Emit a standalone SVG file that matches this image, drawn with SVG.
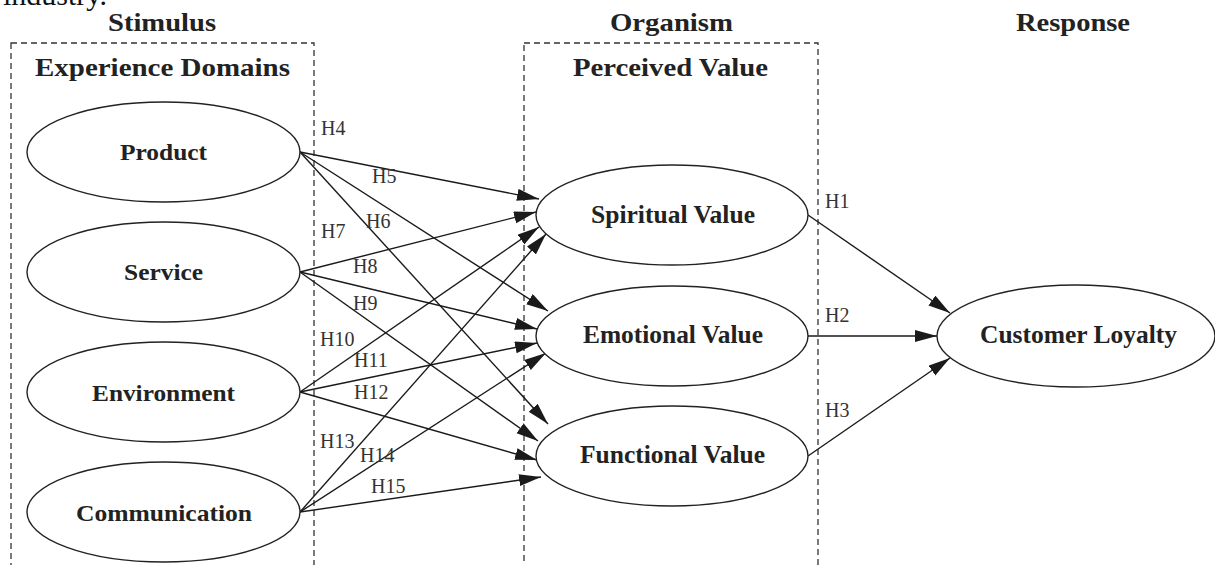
<svg xmlns="http://www.w3.org/2000/svg" width="1215" height="565" viewBox="0 0 1215 565">
<style>
.bg{fill:#ffffff}
.box{fill:none;stroke:#333;stroke-width:1.3;stroke-dasharray:6 4}
.node{fill:#ffffff;stroke:#222;stroke-width:1.4}
.title{font-family:"Liberation Serif","Times New Roman",serif;font-weight:bold;font-size:25px;fill:#222;text-anchor:middle}
.nt{font-family:"Liberation Serif","Times New Roman",serif;font-weight:bold;font-size:24px;fill:#222;text-anchor:middle}
.nt2{font-family:"Liberation Serif","Times New Roman",serif;font-weight:bold;font-size:26px;fill:#222;text-anchor:middle}
.lbl{font-family:"Liberation Serif","Times New Roman",serif;font-size:20px;fill:#333}
.top{font-family:"Liberation Serif","Times New Roman",serif;font-size:30px;fill:#111}
.edge{fill:none;stroke:#1a1a1a;stroke-width:1.4;marker-end:url(#arr)}
</style>
<defs>
<marker id="arr" markerUnits="userSpaceOnUse" markerWidth="24" markerHeight="14" refX="22" refY="6" orient="auto">
<path d="M0,0 L22,6 L0,12 z" fill="#1a1a1a"/>
</marker>
</defs>
<rect class="bg" x="0" y="0" width="1215" height="565"/>
<text class="top" x="3" y="5">industry.</text>

<g id="stimulus-box">
<rect class="box" x="11" y="43" width="303" height="560"/>
<text class="title" x="162" y="31" textLength="108" lengthAdjust="spacingAndGlyphs">Stimulus</text>
<text class="title" x="162.5" y="76" textLength="255" lengthAdjust="spacingAndGlyphs">Experience Domains</text>
</g>
<g id="organism-box">
<rect class="box" x="524" y="43" width="294" height="560"/>
<text class="title" x="671.5" y="31" textLength="123" lengthAdjust="spacingAndGlyphs">Organism</text>
<text class="title" x="670.5" y="76" textLength="195" lengthAdjust="spacingAndGlyphs">Perceived Value</text>
</g>
<g id="response-title">
<text class="title" x="1073" y="31" textLength="114" lengthAdjust="spacingAndGlyphs">Response</text>
</g>

<g id="connectors">
<line class="edge" x1="300" y1="152" x2="539" y2="199"/>
<line class="edge" x1="300" y1="152" x2="548" y2="311"/>
<line class="edge" x1="300" y1="152" x2="548" y2="424"/>
<line class="edge" x1="300" y1="272" x2="536" y2="212"/>
<line class="edge" x1="300" y1="272" x2="537" y2="329"/>
<line class="edge" x1="300" y1="272" x2="538" y2="441"/>
<line class="edge" x1="300" y1="392" x2="539" y2="227"/>
<line class="edge" x1="300" y1="392" x2="537" y2="343"/>
<line class="edge" x1="300" y1="392" x2="537" y2="460"/>
<line class="edge" x1="300" y1="512" x2="546" y2="234"/>
<line class="edge" x1="300" y1="512" x2="546" y2="353"/>
<line class="edge" x1="300" y1="512" x2="541" y2="477"/>
<line class="edge" x1="808" y1="215" x2="950" y2="313"/>
<line class="edge" x1="808" y1="336" x2="937" y2="336"/>
<line class="edge" x1="808" y1="456" x2="950" y2="358"/>
<text class="lbl" x="321" y="135">H4</text>
<text class="lbl" x="372" y="183">H5</text>
<text class="lbl" x="366" y="228">H6</text>
<text class="lbl" x="321" y="238">H7</text>
<text class="lbl" x="353" y="273">H8</text>
<text class="lbl" x="353" y="310">H9</text>
<text class="lbl" x="320" y="346">H10</text>
<text class="lbl" x="354" y="367">H11</text>
<text class="lbl" x="354" y="399">H12</text>
<text class="lbl" x="320" y="448">H13</text>
<text class="lbl" x="360" y="462">H14</text>
<text class="lbl" x="371" y="493">H15</text>
<text class="lbl" x="825" y="208">H1</text>
<text class="lbl" x="825" y="322">H2</text>
<text class="lbl" x="825" y="417">H3</text>
</g>

<g id="product">
<ellipse class="node" cx="163.5" cy="152" rx="136.5" ry="50"/>
<text class="nt" x="163.5" y="160" textLength="87" lengthAdjust="spacingAndGlyphs">Product</text>
</g>
<g id="service">
<ellipse class="node" cx="163.5" cy="272" rx="136.5" ry="50"/>
<text class="nt" x="163.5" y="280" textLength="79" lengthAdjust="spacingAndGlyphs">Service</text>
</g>
<g id="environment">
<ellipse class="node" cx="163.5" cy="392" rx="136.5" ry="50"/>
<text class="nt" x="163.5" y="401" textLength="143" lengthAdjust="spacingAndGlyphs">Environment</text>
</g>
<g id="communication">
<ellipse class="node" cx="163.5" cy="512" rx="136.5" ry="50"/>
<text class="nt" x="164" y="521" textLength="176" lengthAdjust="spacingAndGlyphs">Communication</text>
</g>
<g id="spiritual-value">
<ellipse class="node" cx="672" cy="215" rx="136" ry="50"/>
<text class="nt2" x="673" y="223" textLength="164" lengthAdjust="spacingAndGlyphs">Spiritual Value</text>
</g>
<g id="emotional-value">
<ellipse class="node" cx="672" cy="336" rx="136" ry="50"/>
<text class="nt2" x="673" y="343" textLength="180" lengthAdjust="spacingAndGlyphs">Emotional Value</text>
</g>
<g id="functional-value">
<ellipse class="node" cx="672" cy="456" rx="136" ry="50"/>
<text class="nt2" x="672.5" y="463" textLength="185" lengthAdjust="spacingAndGlyphs">Functional Value</text>
</g>
<g id="customer-loyalty">
<ellipse class="node" cx="1076" cy="336" rx="139" ry="51"/>
<text class="nt2" x="1078.5" y="343" textLength="197" lengthAdjust="spacingAndGlyphs">Customer Loyalty</text>
</g>
</svg>
